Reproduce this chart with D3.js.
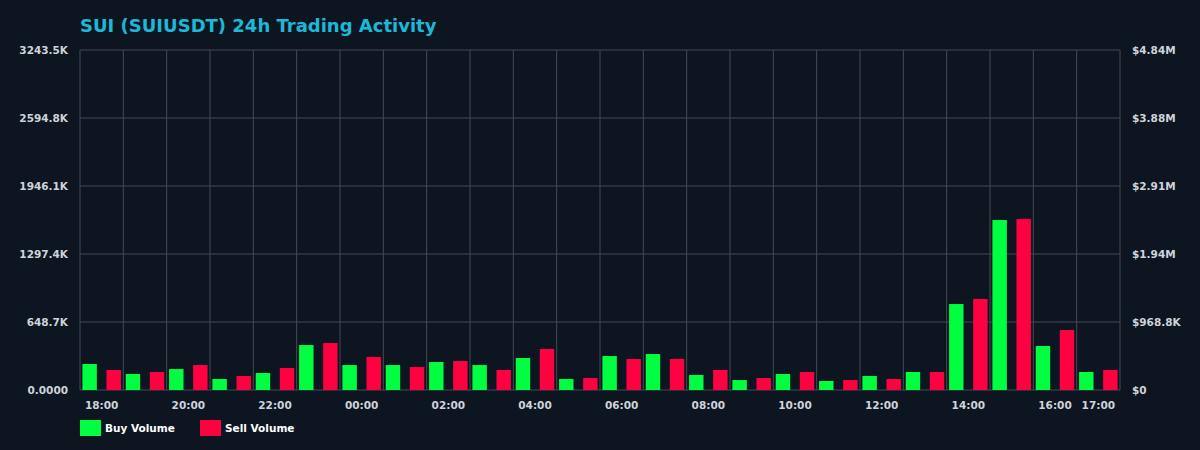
<!DOCTYPE html>
<html>
<head>
  <meta charset='utf-8'>
  <script src='https://cdn.jsdelivr.net/npm/d3@7/dist/d3.min.js'></script>
  <style>
    body { margin: 0; background: #0c1520; }
    text { font-family: 'DejaVu Sans', sans-serif; }
  </style>
</head>
<body>
<div id='chart'></div>
<script>
  var hours = ['18:00','19:00','20:00','21:00','22:00','23:00','00:00','01:00','02:00','03:00','04:00','05:00',
    '06:00','07:00','08:00','09:00','10:00','11:00','12:00','13:00','14:00','15:00','16:00','17:00'];
  // volumes in thousands
  var buyVolume = [248,153,200,105,162,429,238,238,267,238,305,105,324,343,143,95,153,86,134,172,820,1622,420,172];
  var sellVolume = [191,172,238,134,210,448,315,219,277,191,391,114,296,296,191,114,172,95,105,172,868,1631,572,191];
  var leftTicks = [0, 648.7, 1297.4, 1946.1, 2594.8, 3243.5];
  var leftLabels = ['0.0000','648.7K','1297.4K','1946.1K','2594.8K','3243.5K'];
  var rightLabels = ['$0','$968.8K','$1.94M','$2.91M','$3.88M','$4.84M'];
  var shownHours = ['18:00','20:00','22:00','00:00','02:00','04:00','06:00','08:00','10:00','12:00','14:00','16:00','17:00'];

  var W = 1200, H = 450;
  var margin = {top: 50, right: 80, bottom: 60, left: 80};
  var w = W - margin.left - margin.right, h = H - margin.top - margin.bottom;

  var svg = d3.select('#chart').append('svg').attr('width', W).attr('height', H);
  svg.append('rect').attr('width', W).attr('height', H).attr('fill', '#0c1520');
  svg.append('text').attr('x', 80).attr('y', 32).attr('fill', '#1cb8d8')
    .attr('font-size', 18).attr('font-weight', 'bold').text('SUI (SUIUSDT) 24h Trading Activity');

  var g = svg.append('g').attr('transform', 'translate(' + margin.left + ',' + margin.top + ')');

  var x = d3.scaleBand().domain(hours).range([0, w]).padding(0);
  var xs = d3.scaleBand().domain(['buy', 'sell']).range([0, x.bandwidth()]).paddingInner(0.4).paddingOuter(0.1);
  var y = d3.scaleLinear().domain([0, 3243.5]).range([h, 0]);

  // grid
  g.selectAll('.hg').data(leftTicks).enter().append('line')
    .attr('x1', 0).attr('x2', w).attr('y1', d => y(d)).attr('y2', d => y(d))
    .attr('stroke', '#434b56').attr('stroke-width', 1);
  var vlines = hours.map(d => x(d)).concat([w]);
  g.selectAll('.vg').data(vlines).enter().append('line')
    .attr('x1', d => d).attr('x2', d => d).attr('y1', 0).attr('y2', h)
    .attr('stroke', '#434b56').attr('stroke-width', 1);

  g.selectAll('.buy').data(buyVolume).enter().append('rect')
    .attr('x', (d, i) => x(hours[i]) + xs('buy')).attr('width', xs.bandwidth())
    .attr('y', d => y(d)).attr('height', d => h - y(d)).attr('fill', '#00ff41');
  g.selectAll('.sell').data(sellVolume).enter().append('rect')
    .attr('x', (d, i) => x(hours[i]) + xs('sell')).attr('width', xs.bandwidth())
    .attr('y', d => y(d)).attr('height', d => h - y(d)).attr('fill', '#ff0040');

  function style(sel) {
    sel.select('.domain').remove();
    sel.selectAll('.tick line').remove();
    sel.selectAll('text').attr('fill', '#cfd4da').attr('font-size', 10.5).attr('font-weight', 'bold');
  }
  g.append('g').call(d3.axisLeft(y).tickValues(leftTicks).tickFormat((d, i) => leftLabels[i]).tickPadding(6)).call(style);
  g.append('g').attr('transform', 'translate(' + w + ',0)')
    .call(d3.axisRight(y).tickValues(leftTicks).tickFormat((d, i) => rightLabels[i]).tickPadding(6)).call(style);
  g.append('g').attr('transform', 'translate(0,' + h + ')')
    .call(d3.axisBottom(x).tickValues(shownHours).tickPadding(6)).call(style);

  var legend = svg.append('g').attr('transform', 'translate(80,420)');
  [['Buy Volume', '#00ff41', 0], ['Sell Volume', '#ff0040', 120]].forEach(function(l) {
    legend.append('rect').attr('x', l[2]).attr('y', 0).attr('width', 21).attr('height', 16).attr('fill', l[1]);
    legend.append('text').attr('x', l[2] + 25).attr('y', 12).attr('fill', '#ffffff')
      .attr('font-size', 10.5).attr('font-weight', 'bold').text(l[0]);
  });
</script>
</body>
</html>
